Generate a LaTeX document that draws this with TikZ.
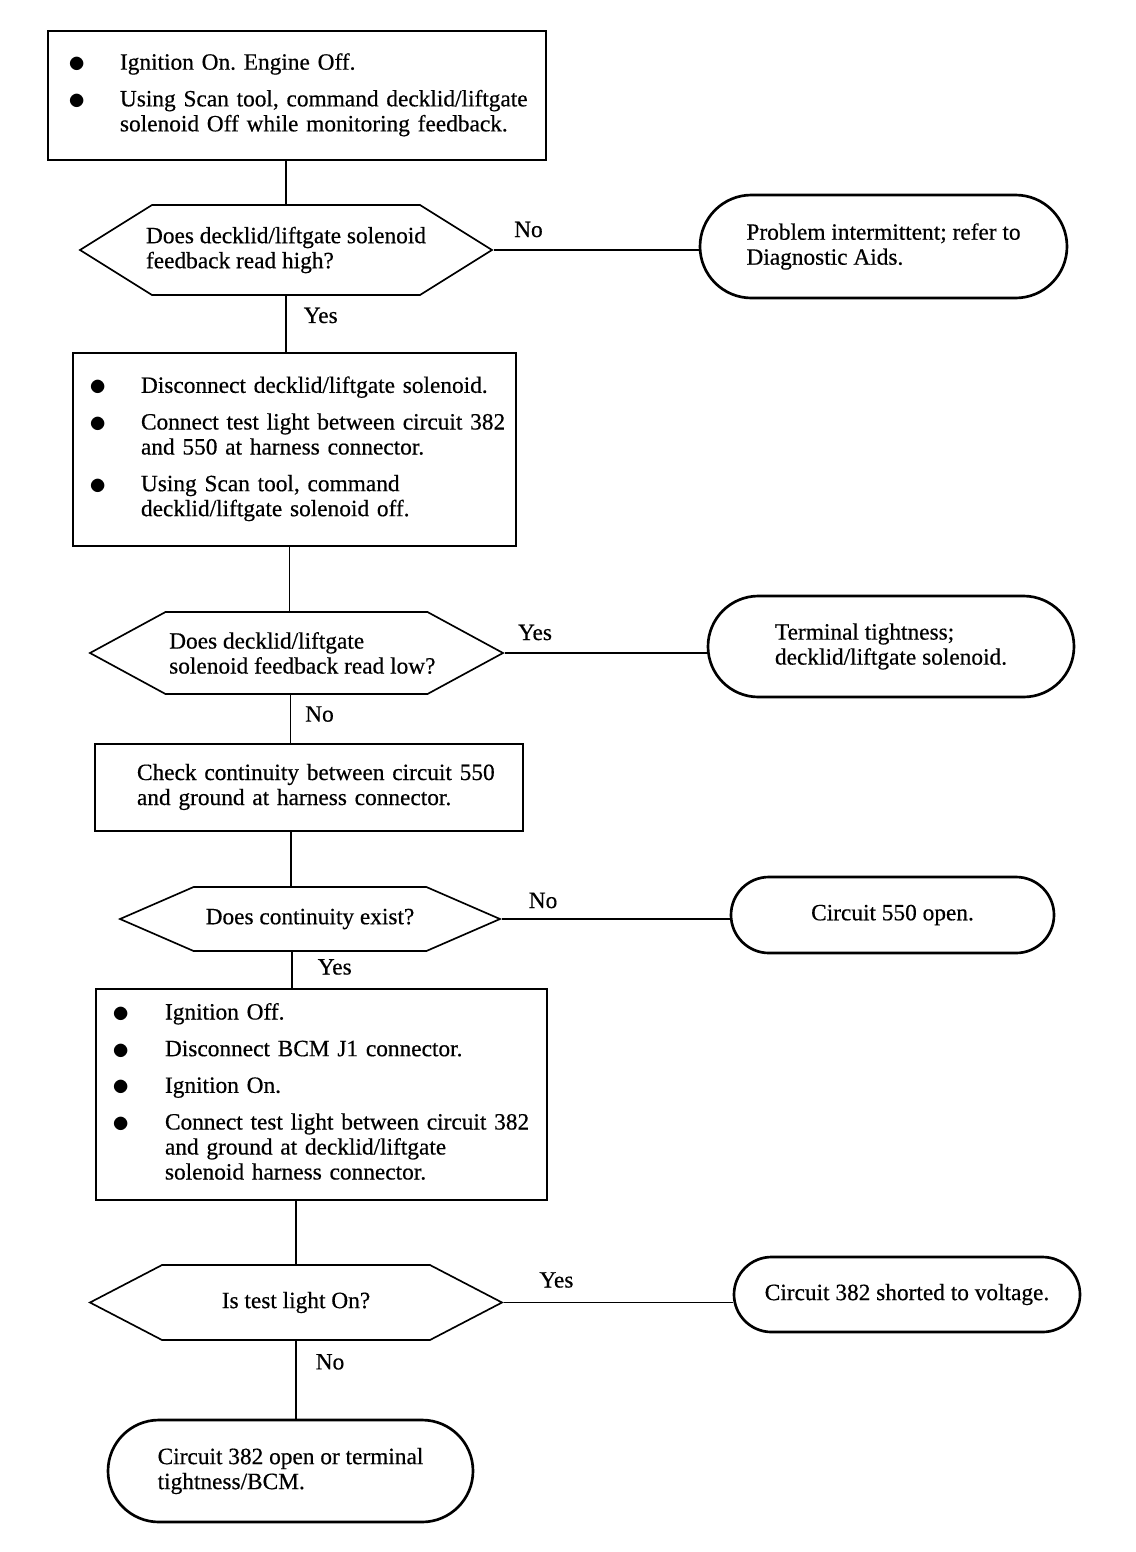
\documentclass[tikz,border=0pt]{standalone}
\usepackage{fontspec}
\setmainfont[FakeBold=0.5]{Liberation Serif}
\usepackage{tikz}
\usetikzlibrary{shapes.symbols,shapes.misc}
\newcommand{\pxu}{0.6pt}
\newcommand{\blt}{\raisebox{-1.8pt}{\fontsize{20}{15}\selectfont$\bullet$}}
\frenchspacing

\begin{document}
\begin{tikzpicture}[
  x=\pxu, y=-\pxu,
  every node/.style={font=\fontsize{14}{15}\selectfont, inner sep=0pt},
  stepbox/.style={draw, line width=1.3pt, rectangle, align=left},
  askbox/.style={draw, line width=1pt, signal, signal to=west and east,
                 inner xsep=-10*\pxu, align=left},
  endbox/.style={draw, line width=1.6pt, rounded rectangle, align=left},
  link/.style={line width=0.9pt},
  answer/.style={font=\fontsize{14}{15}\selectfont},
]
\useasboundingbox (0,0) rectangle (1136,1552);

% steps
\node[stepbox, minimum width=498*\pxu, minimum height=129*\pxu,
      inner xsep=20*\pxu, text width=458*\pxu] (b1) at (297,95.5) {%
  \begin{tabular}{@{}p{31.2pt}@{}l@{}}
   \blt & Ignition On. Engine Off.\\[7pt]
   \blt & Using Scan tool, command decklid/liftgate\\
        & solenoid Off while monitoring feedback.
  \end{tabular}};
\node[stepbox, minimum width=443*\pxu, minimum height=193*\pxu,
      inner xsep=16*\pxu, text width=411*\pxu] (b2) at (294.5,449.5) {%
  \begin{tabular}{@{}p{31.2pt}@{}l@{}}
   \blt & Disconnect decklid/liftgate solenoid.\\[7pt]
   \blt & Connect test light between circuit 382\\
        & and 550 at harness connector.\\[7pt]
   \blt & Using Scan tool, command\\
        & decklid/liftgate solenoid off.
  \end{tabular}};
\node[stepbox, minimum width=428*\pxu, minimum height=87*\pxu,
      inner xsep=42*\pxu, text width=344*\pxu] (b3) at (309,787.5) {%
  \begin{tabular}{@{}l@{}}
   Check continuity between circuit 550\\
   and ground at harness connector.
  \end{tabular}};
\node[stepbox, minimum width=451*\pxu, minimum height=211*\pxu,
      inner xsep=16*\pxu, text width=419*\pxu] (b4) at (321.5,1094.5) {%
  \begin{tabular}{@{}p{31.8pt}@{}l@{}}
   \blt & Ignition Off.\\[7pt]
   \blt & Disconnect BCM J1 connector.\\[7pt]
   \blt & Ignition On.\\[7pt]
   \blt & Connect test light between circuit 382\\
        & and ground at decklid/liftgate\\
        & solenoid harness connector.
  \end{tabular}};

% questions
\node[askbox, minimum width=412*\pxu, minimum height=90*\pxu,
      signal pointer angle=64] (d1) at (286,250)
  {Does decklid/liftgate solenoid\\feedback read high?};
\node[askbox, minimum width=413*\pxu, minimum height=82*\pxu,
      signal pointer angle=57] (d2) at (296.5,653)
  {\hspace*{7pt}Does decklid/liftgate\\\hspace*{7pt}solenoid feedback read low?};
\node[askbox, minimum width=380*\pxu, minimum height=64*\pxu,
      signal pointer angle=47] (d3) at (310,919)
  {Does continuity exist?};
\node[askbox, minimum width=412*\pxu, minimum height=75*\pxu,
      signal pointer angle=55] (d4) at (296,1302.5)
  {Is test light On?};

% results
\node[endbox, minimum width=367*\pxu, minimum height=103*\pxu] (t1) at (883.5,246.5)
  {Problem intermittent; refer to\\Diagnostic Aids.};
\node[endbox, minimum width=366*\pxu, minimum height=101*\pxu] (t2) at (891,646.5)
  {Terminal tightness;\\decklid/liftgate solenoid.};
\node[endbox, minimum width=323*\pxu, minimum height=76*\pxu] (t3) at (892.5,915)
  {Circuit 550 open.};
\node[endbox, minimum width=346*\pxu, minimum height=75*\pxu] (t4) at (907,1294.5)
  {Circuit 382 shorted to voltage.};
\node[endbox, minimum width=365*\pxu, minimum height=102*\pxu] (t5) at (290.5,1471)
  {Circuit 382 open or terminal\\tightness/BCM.};

% connectors
\draw[link] (d1.north) -- (d1.north |- b1.south);
\draw[link] (d1.south) -- node[answer, pos=.35, anchor=west, xshift=17*\pxu] (y1) {Yes}
  (d1.south |- b2.north);
\draw[link] ([xshift=-7*\pxu]d2.north) -- ([xshift=-7*\pxu]d2.north |- b2.south);
\draw[link] ([xshift=-6*\pxu]d2.south) -- node[answer, pos=.4, anchor=west, xshift=14*\pxu] (n2) {No}
  ([xshift=-6*\pxu]d2.south |- b3.north);
\draw[link] ([xshift=-19*\pxu]d3.north) -- ([xshift=-19*\pxu]d3.north |- b3.south);
\draw[link] ([xshift=-18*\pxu]d3.south) -- node[answer, pos=.42, anchor=west, xshift=25*\pxu] (y3) {Yes}
  ([xshift=-18*\pxu]d3.south |- b4.north);
\draw[link] (d4.north) -- (d4.north |- b4.south);
\draw[link] (d4.south) -- node[answer, pos=.27, anchor=west, xshift=19*\pxu] (n4) {No}
  (d4.south |- t5.north);

\draw[link] (d1.east) -- node[answer, pos=.17, anchor=south, yshift=12*\pxu] (n1) {No}
  (d1.east -| t1.west);
\draw[link] (d2.east) -- node[answer, pos=.15, anchor=south, yshift=12*\pxu] (y2) {Yes}
  (d2.east -| t2.west);
\draw[link] (d3.east) -- node[answer, pos=.18, anchor=south, yshift=10*\pxu] (n3) {No}
  (d3.east -| t3.west);
\draw[link] (d4.east) -- node[answer, pos=.23, anchor=south, yshift=14*\pxu] (y4) {Yes}
  (d4.east -| t4.west);
\end{tikzpicture}
\end{document}
